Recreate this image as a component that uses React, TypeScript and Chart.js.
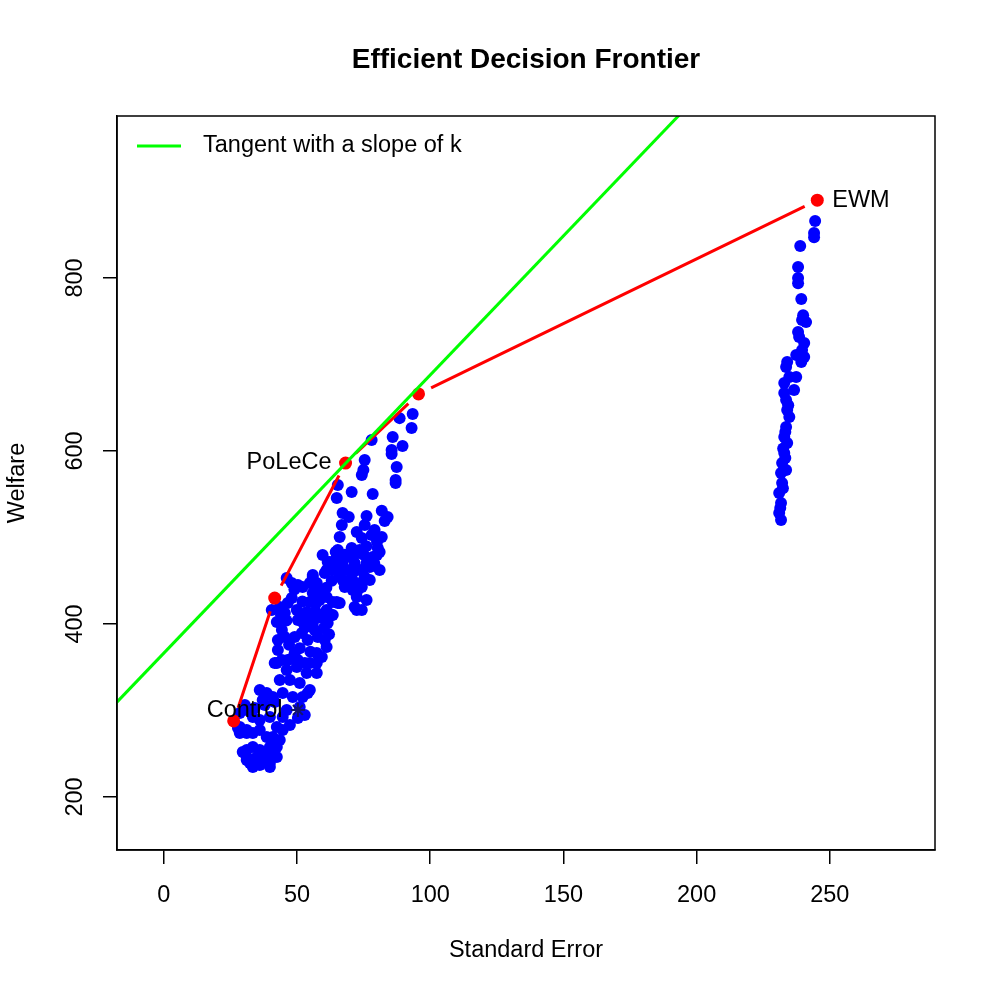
import React, { useEffect, useRef } from "react";
import { Chart, registerables } from "chart.js";

Chart.register(...registerables);

const FONT = "'Liberation Sans', Arial, Helvetica, sans-serif";
const FS = 23.5;

// Frontier (red) points: standard error vs welfare
const frontierLabels = ["Control", "", "PoLeCe", "", "EWM"];
const frontierSE = [26.2, 41.6, 68.2, 95.6, 245.3];
const frontierWelfare = [287.9, 430, 586, 666, 890];

// Tangent line with slope k through PoLeCe
const tangentSE = [-20, 200];
const tangentWelfare = [302.1, 1009.4];

// Control star marker
const controlStarSE = [50.3];
const controlStarWelfare = [300.6];

// Axis ticks
const xTicks = [0, 50, 100, 150, 200, 250];
const yTicks = [200, 400, 600, 800];

// Blue candidate designs: [standard error, welfare]
const lowerCloud: [number, number][] = [
  [29.6, 252], [31.1, 242.8], [33.4, 234.7], [36, 237], [39.8, 239.3], [42.4, 246.2], [38.6, 250.9],
  [41.6, 260.1], [34.9, 246.2], [27.8, 279.8], [28.5, 274], [31.1, 277.5], [31.1, 254.3], [33.4, 257.8],
  [36, 254.3], [31.1, 246.2], [33.4, 242.8], [36, 239.3], [38.6, 242.8], [40.9, 246.2], [39.8, 234.7],
  [32.3, 239.3], [28.5, 280.9], [31.1, 274], [33.4, 274], [36, 277.5], [38.6, 269.4], [40.9, 269.4],
  [43.5, 265.9], [39.8, 257.8], [42.4, 257.8], [31.1, 300.6], [28.5, 297.1], [33.4, 292.5], [36, 289],
  [39.8, 292.5], [42.4, 280.9], [44.6, 277.5], [47.3, 283.2], [46.1, 300.6], [44.6, 292.5], [51, 304],
  [52.9, 294.8], [50.3, 291.3], [36, 323.7], [38.6, 320.2], [40.9, 315.6], [37.1, 312.1], [44.6, 320.2],
  [48.4, 315.6], [52.1, 315.6], [54, 320.2], [42.4, 354.9], [46.1, 346.8], [49.9, 350.3], [53.6, 343.3],
  [57.4, 343.3], [54.8, 354.9], [43.5, 335.3], [47.3, 335.3], [51, 331.8], [54.8, 323.7], [57.4, 354.9],
  [30.4, 306.4], [37.9, 306.4], [41.6, 309.8], [34.1, 302.9],
];

const middleCloud: [number, number][] = [
  [42.8, 369.9], [44.3, 358.4], [46.5, 358.4], [50.3, 358.4], [52.9, 354.9], [49.1, 366.5], [41.6, 354.9],
  [42.4, 402.3], [44.3, 393.1], [42.8, 381.5], [45.4, 385], [49.1, 385], [51.8, 389.6], [54, 381.5],
  [56.6, 393.1], [57.8, 385], [60.4, 381.5], [61.1, 373.4], [57.4, 366.5], [59.3, 361.8], [40.5, 416.2],
  [43.5, 419.6], [45.4, 412.7], [46.5, 424.3], [49.9, 416.2], [52.9, 410.4], [50.3, 404.6], [52.1, 402.3],
  [57.4, 412.7], [59.3, 406.9], [61.5, 401.1], [63, 410.4], [65.3, 424.3], [46.1, 453.2], [50.3, 445.1],
  [48, 447.4], [55.9, 454.3], [57.4, 442.8], [59.3, 435.8], [61.1, 431.2], [64.9, 425.4], [54.8, 447.4],
  [52.1, 442.8], [55.9, 435.8], [59.6, 435.8], [58.5, 427.7], [54.8, 425.4], [63.4, 425.4], [66, 424.3],
  [61.1, 416.2], [55.9, 412.7], [63.4, 410.4], [53.6, 413.9], [55.9, 456.6], [57.4, 447.4],
  [48, 360], [51, 372], [55, 368], [47, 376], [53, 396], [46, 404], [56, 402], [60, 395], [62, 388],
  [44, 410], [48, 430], [52, 426], [57, 423], [49, 440], [61, 442], [63, 450],
];

const upperCloud: [number, number][] = [
  [61.5, 471.7], [64.9, 465.9], [60.4, 458.9], [67.9, 462.4], [70.5, 450.9], [72.8, 439.3], [71.6, 419.6],
  [74.3, 416.2], [72.4, 431.2], [72.4, 416.2], [67.1, 450.9], [69.8, 450.9], [72.4, 447.4], [75.4, 454.3],
  [67.9, 442.8], [70.9, 439.3], [74.3, 442.8], [76.1, 427.7], [77.3, 450.9], [81, 462.4], [81, 483.2],
  [78.4, 477.4], [76.1, 470.5], [73.5, 462.4], [70.9, 459], [73.5, 485.5], [70.9, 477.4], [70.5, 487.8],
  [69.8, 477.4], [72.8, 482.1], [71.6, 470.5], [69, 462.4], [74.6, 462.4], [77.3, 465.9], [65.3, 485.5],
  [64.9, 477.4], [59.6, 479.8], [62.3, 471.7], [63.4, 462.4], [61.1, 462.4], [64.5, 483.2], [79.1, 508.7],
  [81.8, 500.6], [80, 494.8], [80.3, 487.8], [80, 479.8], [75.4, 514.4], [72.4, 506.3], [74.3, 499.4],
  [78, 502.9], [66.8, 514.4], [66, 500.6], [67.1, 528.3], [69.4, 523.7], [76.1, 524.9], [81.8, 530.9],
  [84, 523.7], [82.9, 519], [65.3, 560.7], [64.9, 545.6], [70.5, 552.6], [78.4, 550.3], [74.3, 572.2],
  [74.9, 578], [75.4, 589.6], [78, 612.7], [85.9, 616.2], [85.5, 601.1], [85.5, 596.5], [89.6, 605.8],
  [93.4, 642.7], [93, 626.6], [88.5, 638], [87.4, 581.5], [87, 566.5], [87, 563],
  [67, 470], [68, 480], [75, 480], [79, 470], [66, 455], [76, 490],
];

const ewmCloud: [number, number][] = [
  [244.5, 865.9], [244.1, 852], [244.1, 847], [238.9, 837], [238.1, 812.7], [238.1, 800], [238.1, 794],
  [239.3, 775.7], [240, 757], [239.6, 751.4], [241.1, 749], [238.1, 737.5], [238.5, 731.8], [240.4, 724.8],
  [239.6, 716.7], [240.4, 708.6], [239.3, 702.9], [237.4, 711], [234, 702.9], [233.6, 697], [234.8, 685.5],
  [237.4, 685.5], [232.9, 678.6], [236.6, 670.5], [232.9, 667], [233.6, 659], [234, 647.4], [234.8, 639.3],
  [233.6, 627.7], [232.9, 616.2], [234, 609.2], [232.9, 597.7], [232.1, 586.1], [233.6, 578], [231.7, 574.5],
  [232.1, 563], [231, 551.4], [231.7, 539.9], [231, 528.3], [231.7, 520.2], [232.5, 603], [233.3, 622],
  [234.4, 653], [232.4, 557], [231.4, 534], [233.3, 592],
];

const toPoints = (arr: [number, number][]) => arr.map(([x, y]) => ({ x, y }));
const pair = (xs: number[], ys: number[]) => xs.map((x, i) => ({ x, y: ys[i] }));

const FRONTIER_INDEX = 1;

const decorPlugin = {
  id: "decor",
  afterDatasetDraw(chart: any, args: any) {
    if (args.index !== FRONTIER_INDEX) return;
    const ctx = chart.ctx;
    const pts = chart.getDatasetMeta(FRONTIER_INDEX).data;
    const gap = 14;
    ctx.save();
    ctx.strokeStyle = "#FF0000";
    ctx.lineWidth = 3;
    for (let i = 0; i < pts.length - 1; i++) {
      const a = pts[i];
      const b = pts[i + 1];
      const dx = b.x - a.x;
      const dy = b.y - a.y;
      const len = Math.hypot(dx, dy);
      if (len <= gap * 2) continue;
      const ux = dx / len;
      const uy = dy / len;
      ctx.beginPath();
      ctx.moveTo(a.x + ux * gap, a.y + uy * gap);
      ctx.lineTo(b.x - ux * gap, b.y - uy * gap);
      ctx.stroke();
    }
    ctx.restore();
  },
  afterDraw(chart: any) {
    const ctx = chart.ctx;
    const area = chart.chartArea;
    ctx.save();
    // box
    ctx.strokeStyle = "#000";
    ctx.lineWidth = 1.5;
    ctx.strokeRect(area.left, area.top, area.right - area.left, area.bottom - area.top);

    // point labels
    const pts = chart.getDatasetMeta(FRONTIER_INDEX).data;
    ctx.fillStyle = "#000";
    ctx.font = `${FS}px ${FONT}`;
    ctx.textBaseline = "middle";
    frontierLabels.forEach((lab, i) => {
      if (!lab) return;
      const p = pts[i];
      if (lab === "EWM") {
        ctx.textAlign = "left";
        ctx.fillText(lab, p.x + 15, p.y);
      } else if (lab === "PoLeCe") {
        ctx.textAlign = "right";
        ctx.fillText(lab, p.x - 14, p.y - 1);
      } else {
        ctx.textAlign = "left";
        ctx.fillText(lab, p.x - 27, p.y - 10);
      }
    });

    // legend
    const ly = area.top + 30;
    ctx.strokeStyle = "#00FF00";
    ctx.lineWidth = 3;
    ctx.beginPath();
    ctx.moveTo(area.left + 20, ly);
    ctx.lineTo(area.left + 64, ly);
    ctx.stroke();
    ctx.fillStyle = "#000";
    ctx.textAlign = "left";
    ctx.fillText("Tangent with a slope of k", area.left + 86, ly);
    ctx.restore();
  },
};

export default function App() {
  const canvasRef = useRef<HTMLCanvasElement | null>(null);

  useEffect(() => {
    const canvas = canvasRef.current;
    if (!canvas) return;
    Chart.defaults.font.family = FONT;
    Chart.defaults.color = "#000";

    const blue = [...toPoints(lowerCloud), ...toPoints(middleCloud), ...toPoints(upperCloud), ...toPoints(ewmCloud)];

    const chart = new Chart(canvas, {
      type: "scatter",
      data: {
        datasets: [
          {
            label: "Tangent with a slope of k",
            data: pair(tangentSE, tangentWelfare),
            showLine: true,
            borderColor: "#00FF00",
            borderWidth: 3,
            pointRadius: 0,
            clip: 0,
            order: 0,
          } as any,
          {
            label: "Frontier",
            data: pair(frontierSE, frontierWelfare),
            showLine: false,
            backgroundColor: "#FF0000",
            borderWidth: 0,
            pointRadius: 6.5,
            order: 1,
          },
          {
            label: "Control estimate",
            data: pair(controlStarSE, controlStarWelfare),
            pointStyle: "star",
            pointRadius: 7,
            borderColor: "#12126e",
            backgroundColor: "#12126e",
            borderWidth: 2,
            order: 2,
          },
          {
            label: "Designs",
            data: blue,
            backgroundColor: "#0000FF",
            borderWidth: 0,
            pointRadius: 6,
            order: 3,
          },
        ],
      },
      options: {
        animation: false,
        responsive: false,
        devicePixelRatio: 1,
        layout: { padding: { left: 0, top: 0, right: 61, bottom: 0 } },
        plugins: {
          legend: { display: false },
          tooltip: { enabled: false },
          title: {
            display: true,
            fullSize: false,
            text: "Efficient Decision Frontier",
            color: "#000",
            font: { size: 28, weight: "bold", family: FONT },
            padding: { top: 43, bottom: 39.4 },
          },
        },
        scales: {
          x: {
            type: "linear",
            min: -17.6,
            max: 289.5,
            afterBuildTicks: (scale: any) => {
              scale.ticks = xTicks.map((v) => ({ value: v }));
            },
            afterFit: (scale: any) => {
              scale.height = 146;
            },
            grid: { display: true, drawOnChartArea: false, drawTicks: true, tickLength: 14, color: "#000", lineWidth: 1.5 },
            border: { display: true, color: "#000", width: 1.5 },
            ticks: { font: { size: FS }, padding: 17, color: "#000", maxRotation: 0, minRotation: 0 },
            title: { display: true, text: "Standard Error", font: { size: FS }, color: "#000", padding: { top: 0, bottom: 31 } },
          },
          y: {
            type: "linear",
            min: 138.7,
            max: 987.3,
            afterBuildTicks: (scale: any) => {
              scale.ticks = yTicks.map((v) => ({ value: v }));
            },
            afterFit: (scale: any) => {
              scale.width = 117;
            },
            grid: { display: true, drawOnChartArea: false, drawTicks: true, tickLength: 14, color: "#000", lineWidth: 1.5 },
            border: { display: true, color: "#000", width: 1.5 },
            ticks: { font: { size: FS }, padding: 8, color: "#000", minRotation: 90, maxRotation: 90, crossAlign: "center" },
            title: { display: true, text: "Welfare", font: { size: FS }, color: "#000", padding: { top: 3, bottom: 0 } },
          },
        },
      } as any,
      plugins: [decorPlugin],
    });

    return () => chart.destroy();
  }, []);

  return (
    <div style={{ position: "absolute", left: 0, top: 0, width: 996, height: 996, background: "#fff" }}>
      <canvas ref={canvasRef} width={996} height={996} style={{ display: "block" }} />
    </div>
  );
}
